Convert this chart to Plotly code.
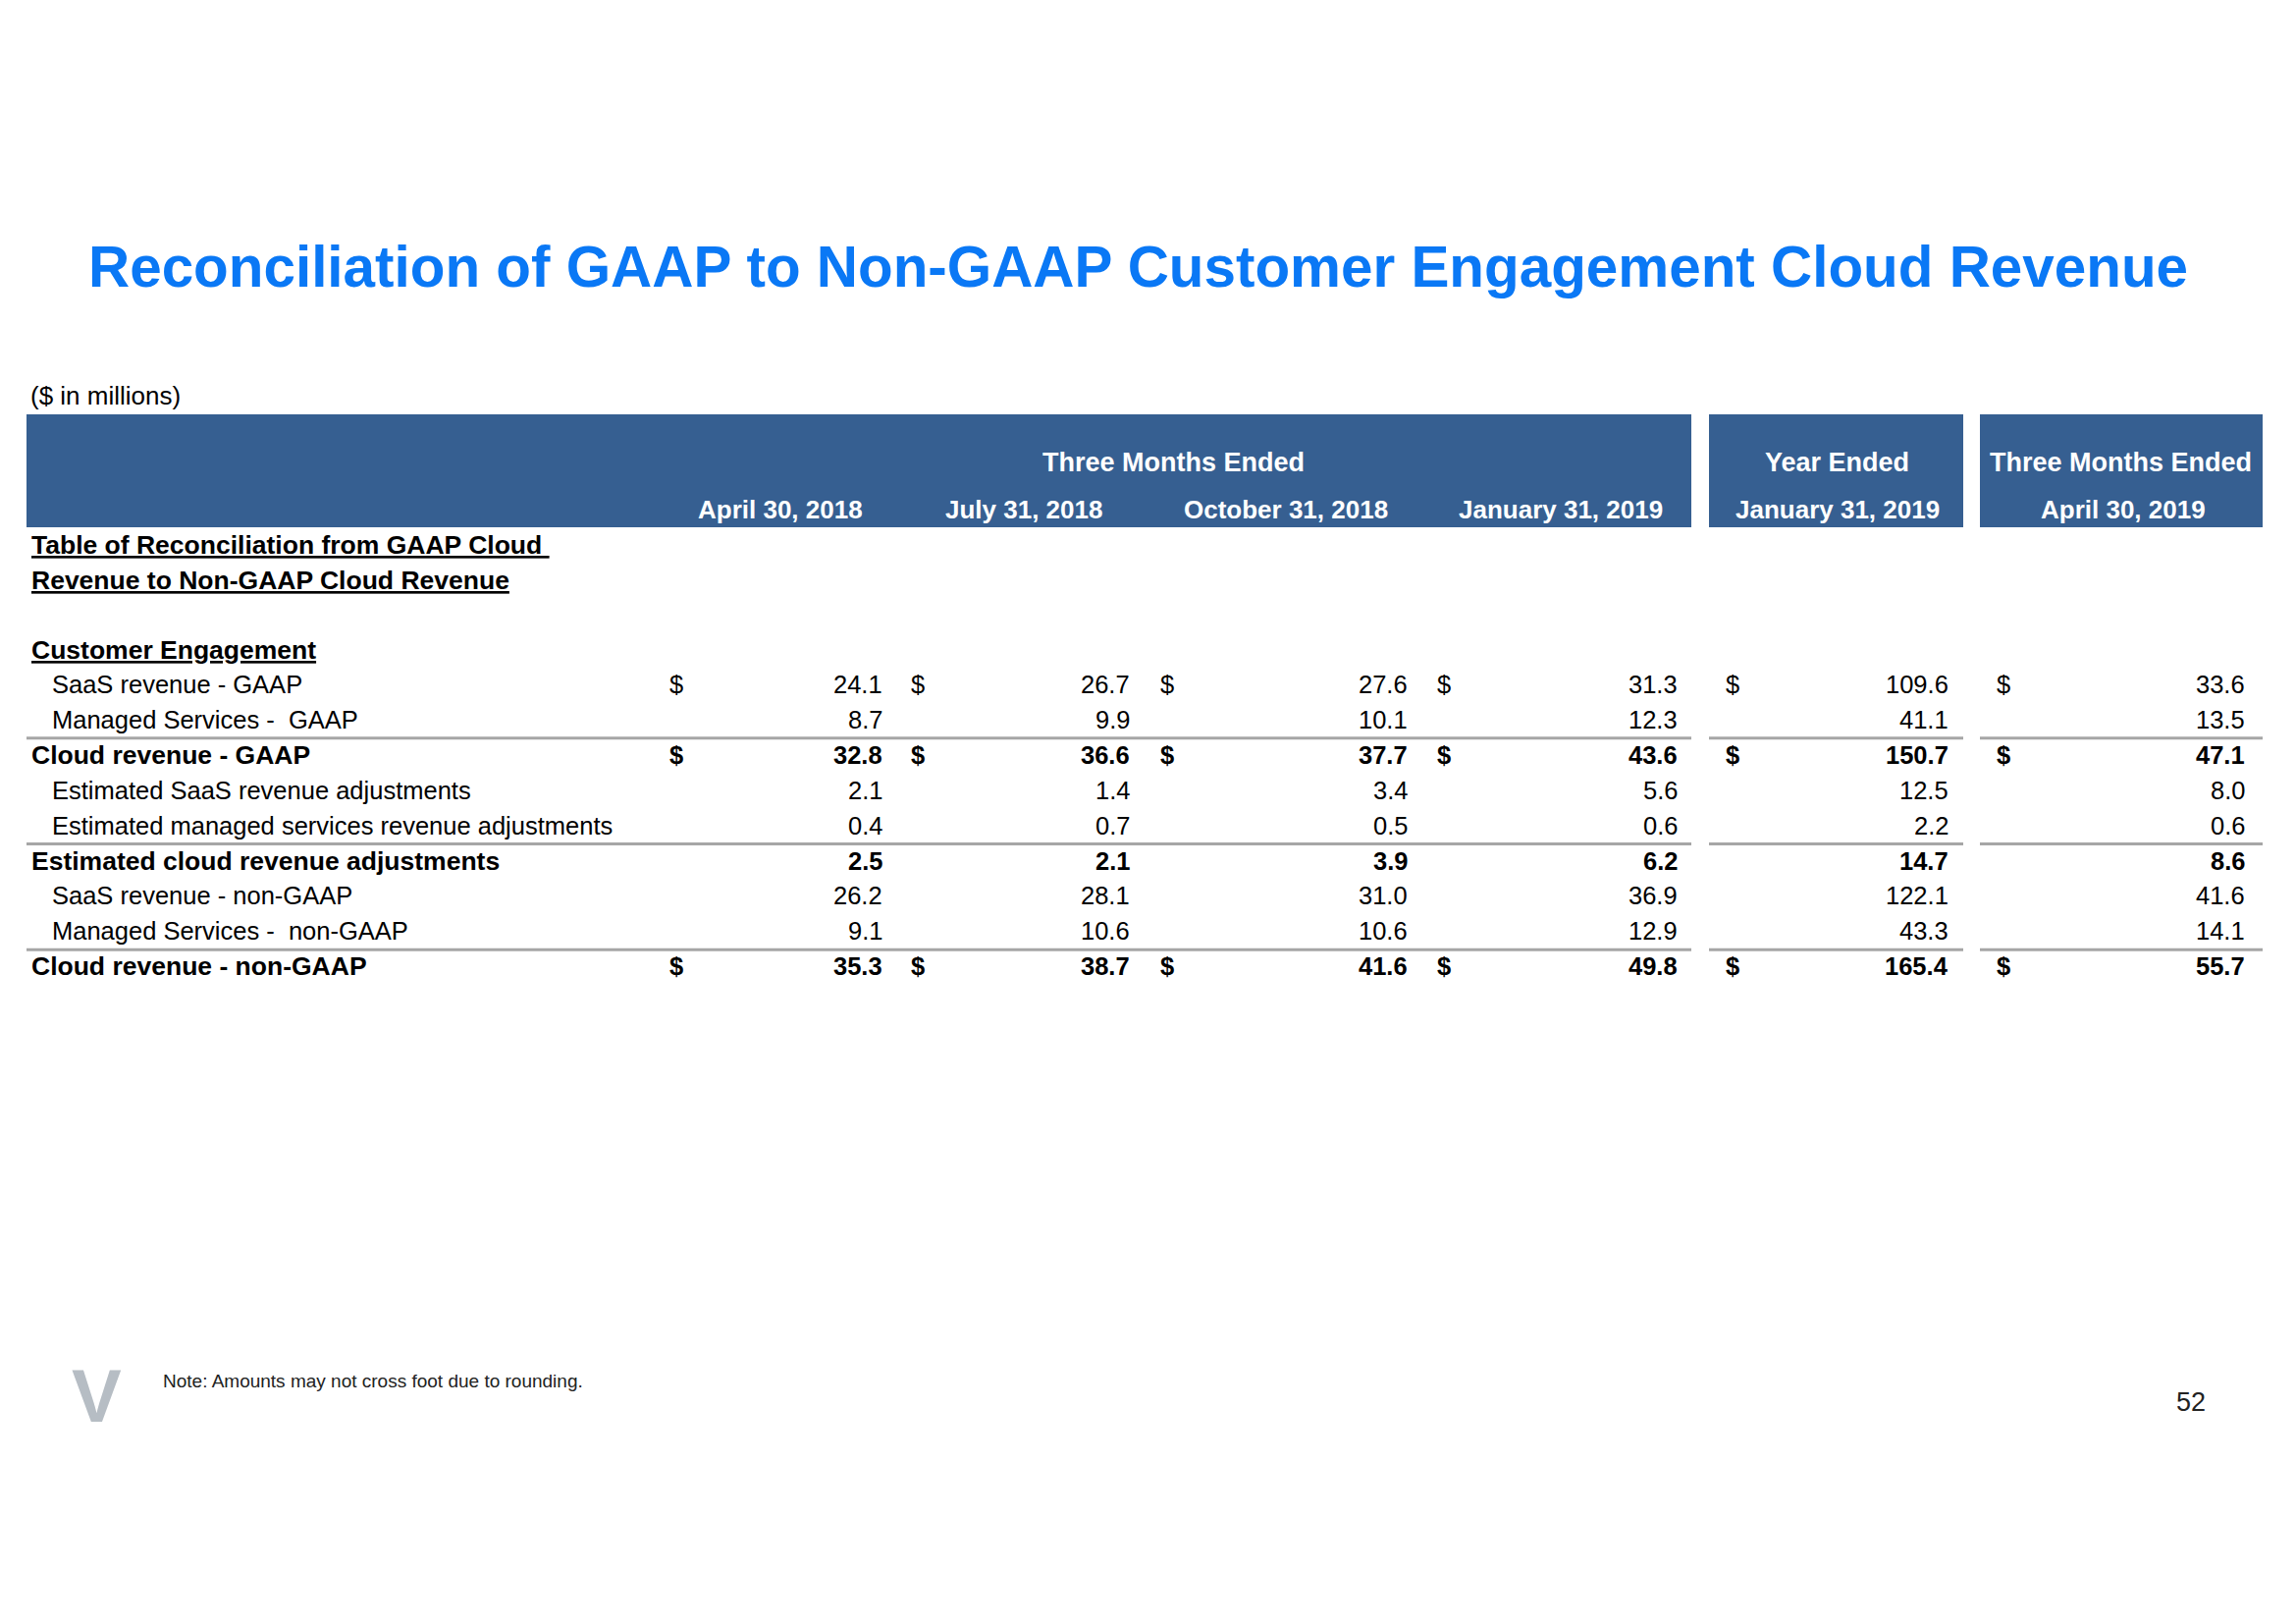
import plotly.graph_objects as go

PAGE_W, PAGE_H = 2339, 1654
OFF = 8  # default body margin of the html page
W, H = PAGE_W - OFF, PAGE_H - OFF

# ---------------- data ----------------
title = "Reconciliation of GAAP to Non-GAAP Customer Engagement Cloud Revenue"
units = "($ in millions)"
group_headers = ["Three Months Ended", "Year Ended", "Three Months Ended"]
periods = ["April 30, 2018", "July 31, 2018", "October 31, 2018",
           "January 31, 2019", "January 31, 2019", "April 30, 2019"]

section_title_1 = "Table of Reconciliation from GAAP Cloud "
section_title_2 = "Revenue to Non-GAAP Cloud Revenue"
section_name = "Customer Engagement"

row_labels = [
    "SaaS revenue - GAAP",
    "Managed Services -  GAAP",
    "Cloud revenue - GAAP",
    "Estimated SaaS revenue adjustments",
    "Estimated managed services revenue adjustments",
    "Estimated cloud revenue adjustments",
    "SaaS revenue - non-GAAP",
    "Managed Services -  non-GAAP",
    "Cloud revenue - non-GAAP",
]
saas_gaap = [24.1, 26.7, 27.6, 31.3, 109.6, 33.6]
ms_gaap = [8.7, 9.9, 10.1, 12.3, 41.1, 13.5]
cloud_gaap = [32.8, 36.6, 37.7, 43.6, 150.7, 47.1]
est_saas_adj = [2.1, 1.4, 3.4, 5.6, 12.5, 8.0]
est_ms_adj = [0.4, 0.7, 0.5, 0.6, 2.2, 0.6]
est_cloud_adj = [2.5, 2.1, 3.9, 6.2, 14.7, 8.6]
saas_nongaap = [26.2, 28.1, 31.0, 36.9, 122.1, 41.6]
ms_nongaap = [9.1, 10.6, 10.6, 12.9, 43.3, 14.1]
cloud_nongaap = [35.3, 38.7, 41.6, 49.8, 165.4, 55.7]
row_values = [saas_gaap, ms_gaap, cloud_gaap, est_saas_adj, est_ms_adj,
              est_cloud_adj, saas_nongaap, ms_nongaap, cloud_nongaap]
row_bold = [False, False, True, False, False, True, False, False, True]
row_dollar = [True, False, True, False, False, False, False, False, True]
rule_after = [False, True, False, False, True, False, False, True, False]

note = "Note: Amounts may not cross foot due to rounding."
page_number = "52"

# ---------------- layout / style ----------------
FONT = "Liberation Sans"
TITLE_BLUE = "#0A78F5"
HEADER_BLUE = "#365F91"
RULE_GRAY = "#A6A6A6"
TEXT = "#000000"

bands = [(27, 1723), (1741, 2000), (2017, 2305)]
band_top, band_bottom = 422, 537
group_centers = [1195, 1871, 2160]
period_centers = [795, 1043, 1310, 1590, 1872, 2163]
dollar_x = [689, 935, 1189, 1471, 1765, 2041]
value_right = [901, 1153, 1436, 1711, 1987, 2289]

first_row_y = 697
row_pitch = 35.9

BODY = 25.5
BOLD_LABEL = 26.5
LABEL_X = 30
INDENT_X = 51

fig = go.Figure()
ann = []
shapes = []


def px(x):
    return (x - OFF) / W


def py(y):
    return 1 - (y - OFF) / H


def text(x, y, s, size, color=TEXT, xanchor="left", under=False):
    f = dict(family=FONT, size=size, color=color)
    if under:
        f["lineposition"] = "under"
    ann.append(dict(x=px(x), y=py(y), xref="paper", yref="paper", text=s,
                    showarrow=False, xanchor=xanchor, yanchor="middle",
                    font=f, align=xanchor if xanchor != "center" else "center"))


# title
text(88, 271, f"<b>{title}</b>", 58.4, TITLE_BLUE)
text(29, 403, units, 26)

# header bands
for x0, x1 in bands:
    shapes.append(dict(type="rect", xref="paper", yref="paper",
                       x0=px(x0), x1=px(x1), y0=py(band_bottom), y1=py(band_top),
                       fillcolor=HEADER_BLUE, line=dict(width=0), layer="below"))
for gx, g in zip(group_centers, group_headers):
    text(gx, 471, f"<b>{g}</b>", 27, "white", xanchor="center")
for cx, p in zip(period_centers, periods):
    text(cx, 519, f"<b>{p}</b>", 26, "white", xanchor="center")

# section headings
text(LABEL_X, 555, f"<b>{section_title_1}</b>", BOLD_LABEL, under=True)
text(LABEL_X, 591, f"<b>{section_title_2}</b>", BOLD_LABEL, under=True)
text(LABEL_X, 662, f"<b>{section_name}</b>", BOLD_LABEL, under=True)

# rows
for i, (lab, vals, b, d, r) in enumerate(zip(row_labels, row_values, row_bold,
                                              row_dollar, rule_after)):
    y = first_row_y + i * row_pitch
    if b:
        text(LABEL_X, y, f"<b>{lab}</b>", BOLD_LABEL)
    else:
        text(INDENT_X, y, lab, BODY)
    for j, v in enumerate(vals):
        s = f"{v:.1f}"
        text(value_right[j], y, f"<b>{s}</b>" if b else s, BODY, xanchor="right")
        if d:
            text(dollar_x[j], y, "<b>$</b>" if b else "$", BODY, xanchor="center")
    if r:
        ly = y + row_pitch / 2 + 1
        for x0, x1 in bands:
            shapes.append(dict(type="line", xref="paper", yref="paper",
                               x0=px(x0), x1=px(x1), y0=py(ly), y1=py(ly),
                               line=dict(color=RULE_GRAY, width=3)))

# footer
text(98, 1421, "<b>V</b>", 76, "#B6BDC4", xanchor="center")
text(164, 1406, note, 19, "#222222")
text(2232, 1428, page_number, 27, "#222222", xanchor="center")

fig.update_layout(
    width=W, height=H,
    margin=dict(l=0, r=0, t=0, b=0),
    paper_bgcolor="white", plot_bgcolor="white",
    xaxis=dict(visible=False, range=[0, 1]),
    yaxis=dict(visible=False, range=[0, 1]),
    annotations=ann, shapes=shapes,
    showlegend=False,
)

fig.write_html("out.html")
